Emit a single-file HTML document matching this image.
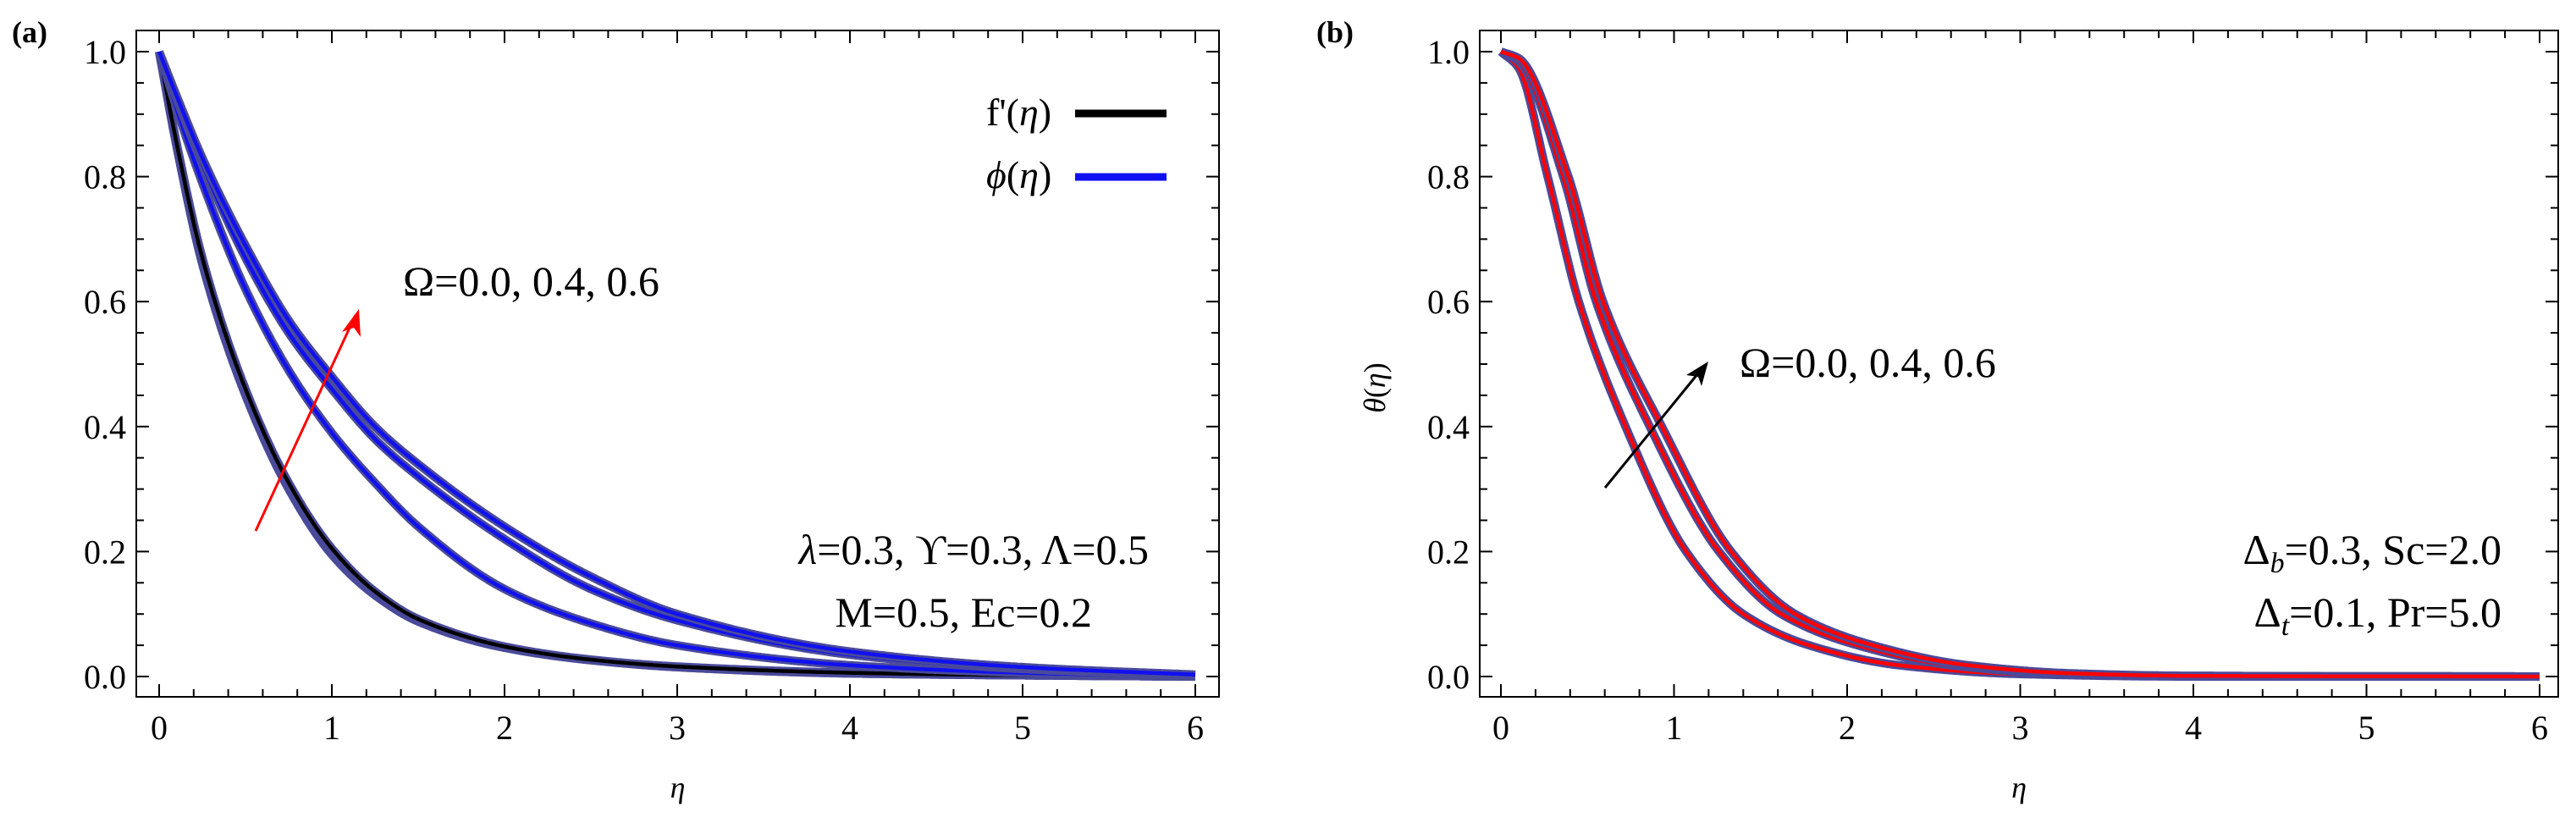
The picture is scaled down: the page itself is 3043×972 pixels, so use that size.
<!DOCTYPE html>
<html><head><meta charset="utf-8"><style>
html,body{margin:0;padding:0;background:#fff}
svg{display:block}
text{font-family:"Liberation Serif",serif;fill:#000}
</style></head><body>
<svg id="chart" width="3043" height="972" viewBox="0 0 3043 972" xmlns="http://www.w3.org/2000/svg" font-family="Liberation Serif, serif">
<text x="14" y="50" font-size="36" font-weight="bold" font-family="Liberation Serif, serif">(a)</text>
<text x="1555" y="50" font-size="36" font-weight="bold" font-family="Liberation Serif, serif">(b)</text>
<g id="pa"></g>
<g id="pb"></g>
</svg>
<script>
const etaA = [0,0.1,0.25,0.5,0.75,1,1.25,1.5,2,2.5,3,4,5,6];
const fp1 = [1,0.85,0.66,0.45,0.30,0.195,0.13,0.088,0.046,0.026,0.015,0.005,0.002,0];
const fp2 = [1,0.85,0.665,0.455,0.305,0.2,0.133,0.09,0.047,0.027,0.015,0.005,0.002,0];
const fp3 = [1,0.855,0.67,0.46,0.31,0.205,0.136,0.092,0.048,0.027,0.016,0.006,0.002,0];
const phi1 = [1,0.91,0.79,0.62,0.49,0.39,0.31,0.24,0.14,0.085,0.05,0.018,0.006,0];
const phi2 = [1,0.925,0.82,0.67,0.55,0.46,0.38,0.32,0.22,0.14,0.09,0.035,0.012,0.002];
const phi3 = [1,0.93,0.83,0.69,0.57,0.48,0.40,0.34,0.24,0.16,0.10,0.04,0.015,0.003];
const etaB1 = [0,0.1,0.27,0.45,0.72,1.07,1.4,1.78,2.3,3,4,6];
const th1 = [1,0.975,0.8,0.6,0.4,0.2,0.1,0.05,0.018,0.004,0,0];
const etaB2 = [0,0.1,0.36,0.55,0.86,1.26,1.62,2.06,2.6,3.2,4,6];
const th2 = [1,0.985,0.8,0.6,0.4,0.2,0.1,0.05,0.018,0.005,0.001,0];
const etaB3 = [0,0.1,0.39,0.59,0.93,1.33,1.7,2.15,2.7,3.3,4,6];
const th3 = [1,0.99,0.8,0.6,0.4,0.2,0.1,0.05,0.018,0.005,0.001,0];
const xTicks = ["0","1","2","3","4","5","6"];
const yTicks = ["0.0","0.2","0.4","0.6","0.8","1.0"];
const NS="http://www.w3.org/2000/svg";
function mk(p,tag,attrs){const e=document.createElementNS(NS,tag);for(const k in attrs)e.setAttribute(k,attrs[k]);p.appendChild(e);return e;}
function panel(g,L,R,T,B,x0,x6){
  const sx=v=>x0+(x6-x0)*v/6, sy=v=>799-738*v;
  const fr=mk(g,'rect',{x:L,y:T,width:R-L,height:B-T,fill:'none',stroke:'#000','stroke-width':2});
  
  
  for(let i=0;i<=30;i++){const v=i/5;const x=sx(v);const len=(i%5==0)?15:9;
    mk(g,'line',{x1:x,y1:B,x2:x,y2:B-len,stroke:'#000','stroke-width':2});
    mk(g,'line',{x1:x,y1:T,x2:x,y2:T+len,stroke:'#000','stroke-width':2});}
  for(let i=-1;i<=21;i++){const v=i*0.05;const y=sy(v);if(y<T||y>B)continue;const len=(i%4==0)?15:9;
    mk(g,'line',{x1:L,y1:y,x2:L+len,y2:y,stroke:'#000','stroke-width':2});
    mk(g,'line',{x1:R,y1:y,x2:R-len,y2:y,stroke:'#000','stroke-width':2});}
  xTicks.forEach((t,i)=>{const e=mk(g,'text',{x:sx(+t),y:873,'font-size':40,'text-anchor':'middle','font-family':'Liberation Serif, serif'});e.textContent=t;
    
    });
  yTicks.forEach(t=>{const e=mk(g,'text',{x:L-12,y:sy(+t)+14,'font-size':40,'text-anchor':'end','font-family':'Liberation Serif, serif'});e.textContent=t;
    
    });
  const xl=mk(g,'text',{x:(L+R)/2,y:942,'font-size':36,'font-style':'italic','text-anchor':'middle','font-family':'Liberation Serif, serif'});xl.textContent='η';
  
  
  return {sx,sy};
}
function mono(xs,ys){
  const n=xs.length,d=[],m=new Array(n);
  for(let i=0;i<n-1;i++)d.push((ys[i+1]-ys[i])/(xs[i+1]-xs[i]));
  m[0]=d[0];m[n-1]=d[n-2];
  for(let i=1;i<n-1;i++){if(d[i-1]*d[i]<=0)m[i]=0;else{const h0=xs[i]-xs[i-1],h1=xs[i+1]-xs[i];const w1=2*h1+h0,w2=h1+2*h0;m[i]=(w1+w2)/(w1/d[i-1]+w2/d[i]);}}
  return x=>{let i=0;while(i<n-2&&x>xs[i+1])i++;const h=xs[i+1]-xs[i],t=(x-xs[i])/h;
    const h00=2*t*t*t-3*t*t+1,h10=t*t*t-2*t*t+t,h01=-2*t*t*t+3*t*t,h11=t*t*t-t*t;
    return h00*ys[i]+h10*h*m[i]+h01*ys[i+1]+h11*h*m[i+1];};
}
function curve(g,xs,ys,ax,col,name){
  const f=mono(xs,ys);let d='';
  const xmax=xs[xs.length-1];
  for(let x=0;x<=xmax+1e-9;x+=0.01){d+=(d?' L':'M')+ax.sx(x).toFixed(1)+','+ax.sy(f(x)).toFixed(1);}
  const o=mk(g,'path',{d:d,fill:'none',stroke:'#4a4a9a','stroke-width':10,'stroke-linejoin':'round'});
  
  
  const l=mk(g,'path',{d:d,fill:'none',stroke:col,'stroke-width':4.5,'stroke-linejoin':'round'});
  
  
}
const ga=document.getElementById('pa');
const A=panel(ga,161,1440,36,823,188,1412);
curve(ga,etaA,fp1,A,'#000','fprime-omega-0');curve(ga,etaA,fp2,A,'#000','fprime-omega-04');curve(ga,etaA,fp3,A,'#000','fprime-omega-06');
curve(ga,etaA,phi1,A,'#1010f0','phi-omega-0');curve(ga,etaA,phi2,A,'#1010f0','phi-omega-04');curve(ga,etaA,phi3,A,'#1010f0','phi-omega-06');
const gb=document.getElementById('pb');
const Bx=panel(gb,1748,3022,36,823,1773,3000);
curve(gb,etaB1,th1,Bx,'#f00','theta-omega-0');curve(gb,etaB2,th2,Bx,'#f00','theta-omega-04');curve(gb,etaB3,th3,Bx,'#f00','theta-omega-06');
</script>
<svg style="position:absolute;left:0;top:0" width="3043" height="972" font-family="Liberation Serif, serif">
<g font-family="Liberation Serif, serif">
<text x="1165" y="148" font-size="46">f'(<tspan font-style="italic">η</tspan>)</text>
<line x1="1270" y1="134" x2="1378" y2="134" stroke="#000" stroke-width="9"/>
<text x="1165" y="222" font-size="46"><tspan font-style="italic">ϕ</tspan>(<tspan font-style="italic">η</tspan>)</text>
<line x1="1270" y1="209" x2="1378" y2="209" stroke="#1010f0" stroke-width="9"/>
<text x="476" y="349" font-size="50">Ω=0.0, 0.4, 0.6</text>
<line x1="302" y1="627" x2="420" y2="372" stroke="#f00" stroke-width="3"/>
<path d="M424,365 L404,392 L418,387 L424,365 Z M424,365 L426,398 L418,387 Z" fill="#f00"/>
<text x="1357" y="666" font-size="50" text-anchor="end"><tspan font-style="italic">λ</tspan>=0.3, ϒ=0.3, Λ=0.5</text>
<text x="1290" y="740" font-size="50" text-anchor="end">M=0.5, Ec=0.2</text>
<text x="1636" y="458" font-size="36" text-anchor="middle" transform="rotate(-90 1636 458)"><tspan font-style="italic">θ</tspan>(<tspan font-style="italic">η</tspan>)</text>
<text x="2055" y="445" font-size="50">Ω=0.0, 0.4, 0.6</text>
<line x1="1896" y1="576" x2="2010" y2="436" stroke="#000" stroke-width="3"/>
<path d="M2018,427 L1992,443 L2006,445 L2010,456 Z" fill="#000"/>
<text x="2955" y="666" font-size="50" text-anchor="end">Δ<tspan font-size="34" font-style="italic" dy="10">b</tspan><tspan dy="-10">=0.3, Sc=2.0</tspan></text>
<text x="2955" y="740" font-size="50" text-anchor="end">Δ<tspan font-size="34" font-style="italic" dy="10">t</tspan><tspan dy="-10">=0.1, Pr=5.0</tspan></text>
</g>
</svg>
</body></html>
